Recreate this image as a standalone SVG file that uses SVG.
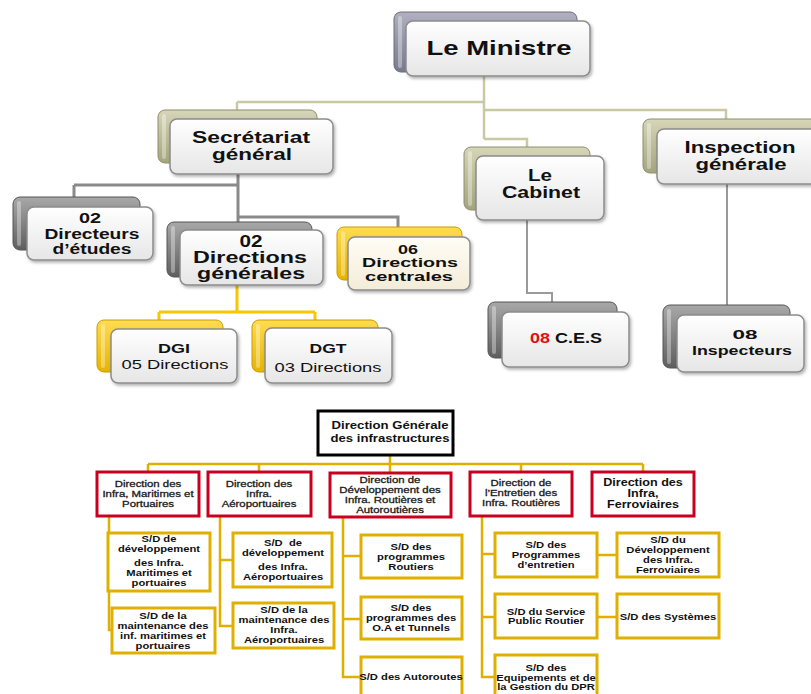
<svg xmlns="http://www.w3.org/2000/svg" width="811" height="694" viewBox="0 0 811 694">
<defs>
<linearGradient id="gFront" x1="0" y1="0" x2="0" y2="1"><stop offset="0" stop-color="#ffffff"/><stop offset="1" stop-color="#e6e6e6"/></linearGradient>
<linearGradient id="gCream" x1="0" y1="0" x2="0" y2="1"><stop offset="0" stop-color="#fffdf6"/><stop offset="1" stop-color="#f3ecd8"/></linearGradient>
<linearGradient id="gGray" x1="0" y1="0" x2="0" y2="1"><stop offset="0" stop-color="#a8a8a8"/><stop offset="1" stop-color="#5e5e5e"/></linearGradient>
<linearGradient id="gKhaki" x1="0" y1="0" x2="0" y2="1"><stop offset="0" stop-color="#d6d6b8"/><stop offset="1" stop-color="#a4a47e"/></linearGradient>
<linearGradient id="gLav" x1="0" y1="0" x2="0" y2="1"><stop offset="0" stop-color="#b0b0c0"/><stop offset="1" stop-color="#7a7a8e"/></linearGradient>
<linearGradient id="gYellow" x1="0" y1="0" x2="0" y2="1"><stop offset="0" stop-color="#ffdc50"/><stop offset="1" stop-color="#e6b400"/></linearGradient>
<filter id="sh" x="-10%" y="-10%" width="130%" height="140%"><feDropShadow dx="1.5" dy="2" stdDeviation="1.5" flood-color="#000" flood-opacity="0.3"/></filter>
</defs>
<style>
text{font-family:"Liberation Sans",Arial,sans-serif;fill:#111;text-anchor:middle}
.t{font-weight:bold}
.r{font-weight:normal}
.front{fill:url(#gFront);stroke:#8c8c8c;stroke-width:1.5;filter:url(#sh)}
.cream{fill:url(#gCream)}
.back{stroke-width:1}
.bg{fill:url(#gGray);stroke:#555}
.bk{fill:url(#gKhaki);stroke:#8e8e6c}
.bl{fill:url(#gLav);stroke:#6c6c80}
.by{fill:url(#gYellow);stroke:#c89c00}
.hl{fill:#fff;opacity:0.35}
.red{fill:#fff;stroke:#c8001e;stroke-width:3}
.gold{fill:#fff;stroke:#e0b000;stroke-width:3}
.blk{fill:#fff;stroke:#000;stroke-width:3}
.l2{font-size:9.5px;font-weight:normal;stroke:#222;stroke-width:0.3}
.l3{font-size:9.5px;font-weight:bold}
.l5{font-size:10.5px;font-weight:bold}
.ck{fill:none;stroke:#c9c9a4;stroke-width:2.5}
.cg{fill:none;stroke:#8a8a8a;stroke-width:3}
.cy{fill:none;stroke:#f5c800;stroke-width:3}
.cl{fill:none;stroke:#9a9a9a;stroke-width:2}
.cb{fill:none;stroke:#e0b000;stroke-width:2.5}
</style>
<rect width="811" height="694" fill="#fff"/>

<g id="connectors">
<path class="ck" d="M484 76 V139 M237 102 H484 M237 102 V112 M484 110 H726 V120 M484 139 H527 V148"/>
<path class="cg" d="M238 174 V230 M74 185 H238 M74 185 V198 M238 217 H398 V228"/>
<path class="cy" d="M237 285 V312 M159 312 H315 M159 312 V321 M315 312 V321"/>
<path class="cl" d="M527 220 V293 H552 V303 M727 184 V306"/>
<path class="cb" d="M390 455 V464 M148 464 H643 M148 464 V472 M259 464 V472 M390 464 V473 M521 464 V472 M643 464 V472"/>
<path class="cb" d="M109 516 V630 H112 M220 516 V626 H233 M220 560 H233 M343 517 V677 H361 M343 556 H361 M343 619 H361 M482 516 V677 H495 M482 554 H495 M482 617 H495 M597 555 H617 M597 617 H617"/>
</g>

<g id="ministre">
<rect class="back bl" x="394" y="12" width="183" height="60" rx="7"/>
<rect class="hl" x="398" y="16" width="4" height="52" rx="2"/>
<rect class="front" x="406" y="21" width="184" height="55" rx="7"/>
<text class="t" x="499" y="55" font-size="21" textLength="145" lengthAdjust="spacingAndGlyphs">Le Ministre</text>
</g>

<g id="secretariat">
<rect class="back bk" x="158" y="110" width="159" height="53" rx="7"/>
<rect class="hl" x="162" y="114" width="4" height="45" rx="2"/>
<rect class="front" x="170" y="119" width="163" height="55" rx="7"/>
<text class="t" x="251" y="143" font-size="16" textLength="118" lengthAdjust="spacingAndGlyphs">Secrétariat</text>
<text class="t" x="252" y="160" font-size="16" textLength="80" lengthAdjust="spacingAndGlyphs">général</text>
</g>

<g id="cabinet">
<rect class="back bk" x="464" y="147" width="126" height="63" rx="7"/>
<rect class="hl" x="468" y="151" width="4" height="55" rx="2"/>
<rect class="front" x="476" y="156" width="128" height="64" rx="7"/>
<text class="t" x="540" y="181" font-size="16" textLength="24" lengthAdjust="spacingAndGlyphs">Le</text>
<text class="t" x="541" y="198" font-size="16" textLength="78" lengthAdjust="spacingAndGlyphs">Cabinet</text>
</g>

<g id="inspection">
<rect class="back bk" x="643" y="119" width="175" height="54" rx="7"/>
<rect class="hl" x="647" y="123" width="4" height="46" rx="2"/>
<rect class="front" x="657" y="129" width="165" height="55" rx="7"/>
<text class="t" x="740" y="153" font-size="16" textLength="111" lengthAdjust="spacingAndGlyphs">Inspection</text>
<text class="t" x="741" y="170" font-size="16" textLength="91" lengthAdjust="spacingAndGlyphs">générale</text>
</g>

<g id="directeurs">
<rect class="back bg" x="13" y="197" width="127" height="53" rx="7"/>
<rect class="hl" x="17" y="201" width="4" height="45" rx="2"/>
<rect class="front" x="27" y="207" width="126" height="53" rx="7"/>
<text class="t" x="90" y="223" font-size="14" textLength="22" lengthAdjust="spacingAndGlyphs">02</text>
<text class="t" x="92" y="239" font-size="14" textLength="95" lengthAdjust="spacingAndGlyphs">Directeurs</text>
<text class="t" x="92" y="254" font-size="14" textLength="79" lengthAdjust="spacingAndGlyphs">d’études</text>
</g>

<g id="directions-generales">
<rect class="back bg" x="167" y="222" width="145" height="55" rx="7"/>
<rect class="hl" x="171" y="226" width="4" height="47" rx="2"/>
<rect class="front" x="180" y="230" width="143" height="55" rx="7"/>
<text class="t" x="251" y="247" font-size="16" textLength="23" lengthAdjust="spacingAndGlyphs">02</text>
<text class="t" x="250" y="263" font-size="16" textLength="114" lengthAdjust="spacingAndGlyphs">Directions</text>
<text class="t" x="251" y="279" font-size="16" textLength="108" lengthAdjust="spacingAndGlyphs">générales</text>
</g>

<g id="directions-centrales">
<rect class="back by" x="337" y="227" width="125" height="53" rx="7"/>
<rect class="hl" x="341" y="231" width="4" height="45" rx="2"/>
<rect class="front cream" x="348" y="237" width="122" height="53" rx="7"/>
<text class="t" x="408" y="254" font-size="12" textLength="20" lengthAdjust="spacingAndGlyphs">06</text>
<text class="t" x="410" y="267" font-size="12" textLength="96" lengthAdjust="spacingAndGlyphs">Directions</text>
<text class="t" x="409" y="281" font-size="12" textLength="88" lengthAdjust="spacingAndGlyphs">centrales</text>
</g>

<g id="dgi">
<rect class="back by" x="97" y="320" width="126" height="52" rx="7"/>
<rect class="hl" x="101" y="324" width="4" height="44" rx="2"/>
<rect class="front" x="111" y="329" width="126" height="54" rx="7"/>
<text class="t" x="174" y="353" font-size="13.5" textLength="32" lengthAdjust="spacingAndGlyphs">DGI</text>
<text class="r" x="175" y="369" font-size="13.5" textLength="107" lengthAdjust="spacingAndGlyphs">05 Directions</text>
</g>

<g id="dgt">
<rect class="back by" x="252" y="320" width="126" height="52" rx="7"/>
<rect class="hl" x="256" y="324" width="4" height="44" rx="2"/>
<rect class="front" x="265" y="328" width="127" height="55" rx="7"/>
<text class="t" x="328" y="353" font-size="13.5" textLength="37" lengthAdjust="spacingAndGlyphs">DGT</text>
<text class="r" x="328" y="372" font-size="13.5" textLength="107" lengthAdjust="spacingAndGlyphs">03 Directions</text>
</g>

<g id="ces">
<rect class="back bg" x="488" y="302" width="129" height="56" rx="7"/>
<rect class="hl" x="492" y="306" width="4" height="48" rx="2"/>
<rect class="front" x="502" y="312" width="127" height="55" rx="7"/>
<text class="t" x="566" y="343" font-size="14" textLength="72" lengthAdjust="spacingAndGlyphs"><tspan fill="#e01010">08</tspan> C.E.S</text>
</g>

<g id="inspecteurs">
<rect class="back bg" x="663" y="305" width="127" height="63" rx="7"/>
<rect class="hl" x="667" y="309" width="4" height="55" rx="2"/>
<rect class="front" x="677" y="315" width="127" height="57" rx="7"/>
<text class="t" x="745" y="339" font-size="13.5" textLength="25" lengthAdjust="spacingAndGlyphs">08</text>
<text class="t" x="742" y="355" font-size="13.5" textLength="100" lengthAdjust="spacingAndGlyphs">Inspecteurs</text>
</g>

<g id="dg-infra">
<rect class="blk" x="318" y="411" width="135" height="44"/>
<text class="t" x="390" y="429" font-size="11.5" textLength="117" lengthAdjust="spacingAndGlyphs">Direction Générale</text>
<text class="t" x="390" y="442" font-size="11.5" textLength="119" lengthAdjust="spacingAndGlyphs">des infrastructures</text>
</g>

<g id="d-maritimes">
<rect class="red" x="97" y="472" width="102" height="44"/>
<g transform="translate(148 0) scale(1.2 1)">
<text class="l2" x="0" y="487">Direction des</text>
<text class="l2" x="0" y="497">Infra, Maritimes et</text>
<text class="l2" x="0" y="507">Portuaires</text>
</g>
</g>
<g id="d-aeroportuaires">
<rect class="red" x="208" y="472" width="103" height="44"/>
<g transform="translate(259 0) scale(1.2 1)">
<text class="l2" x="0" y="487">Direction des</text>
<text class="l2" x="0" y="497">Infra.</text>
<text class="l2" x="0" y="507">Aéroportuaires</text>
</g>
</g>
<g id="d-developpement">
<rect class="red" x="330" y="473" width="121" height="44"/>
<g transform="translate(390 0) scale(1.2 1)">
<text class="l2" x="0" y="483">Direction de</text>
<text class="l2" x="0" y="493">Développement des</text>
<text class="l2" x="0" y="503">Infra. Routières et</text>
<text class="l2" x="0" y="513">Autoroutières</text>
</g>
</g>
<g id="d-entretien">
<rect class="red" x="470" y="472" width="102" height="44"/>
<g transform="translate(521 0) scale(1.2 1)">
<text class="l2" x="0" y="486">Direction de</text>
<text class="l2" x="0" y="496">l’Entretien des</text>
<text class="l2" x="0" y="506">Infra. Routières</text>
</g>
</g>
<g id="d-ferroviaires">
<rect class="red" x="592" y="472" width="102" height="44"/>
<g transform="translate(643 0) scale(1.2 1)">
<text class="l5" x="0" y="486">Direction des</text>
<text class="l5" x="0" y="497">Infra,</text>
<text class="l5" x="0" y="508">Ferroviaires</text>
</g>
</g>

<g id="sd-dev-maritimes">
<rect class="gold" x="108" y="533" width="102" height="58"/>
<g transform="translate(159 0) scale(1.18 1)">
<text class="l3" x="0" y="542">S/D de</text>
<text class="l3" x="0" y="552">développement</text>
<text class="l3" x="0" y="566">des Infra.</text>
<text class="l3" x="0" y="576">Maritimes et</text>
<text class="l3" x="0" y="586">portuaires</text>
</g>
</g>
<g id="sd-maint-maritimes">
<rect class="gold" x="112" y="608" width="103" height="45"/>
<g transform="translate(163 0) scale(1.18 1)">
<text class="l3" x="0" y="619">S/D de la</text>
<text class="l3" x="0" y="629">maintenance des</text>
<text class="l3" x="0" y="639">inf. maritimes et</text>
<text class="l3" x="0" y="649">portuaires</text>
</g>
</g>
<g id="sd-dev-aero">
<rect class="gold" x="233" y="533" width="99" height="54"/>
<g transform="translate(283 0) scale(1.18 1)">
<text class="l3" x="0" y="546" xml:space="preserve">S/D  de</text>
<text class="l3" x="0" y="556">développement</text>
<text class="l3" x="0" y="570">des Infra.</text>
<text class="l3" x="0" y="580">Aéroportuaires</text>
</g>
</g>
<g id="sd-maint-aero">
<rect class="gold" x="233" y="603" width="101" height="45"/>
<g transform="translate(284 0) scale(1.18 1)">
<text class="l3" x="0" y="613">S/D de la</text>
<text class="l3" x="0" y="623">maintenance des</text>
<text class="l3" x="0" y="633">Infra.</text>
<text class="l3" x="0" y="643">Aéroportuaires</text>
</g>
</g>
<g id="sd-prog-routiers">
<rect class="gold" x="361" y="535" width="101" height="43"/>
<g transform="translate(411 0) scale(1.18 1)">
<text class="l3" x="0" y="550">S/D des</text>
<text class="l3" x="0" y="560">programmes</text>
<text class="l3" x="0" y="570">Routiers</text>
</g>
</g>
<g id="sd-prog-oa">
<rect class="gold" x="361" y="597" width="101" height="42"/>
<g transform="translate(411 0) scale(1.18 1)">
<text class="l3" x="0" y="611">S/D des</text>
<text class="l3" x="0" y="621">programmes des</text>
<text class="l3" x="0" y="631">O.A et Tunnels</text>
</g>
</g>
<g id="sd-autoroutes">
<rect class="gold" x="361" y="657" width="101" height="45"/>
<g transform="translate(411 0) scale(1.18 1)">
<text class="l3" x="0" y="680">S/D des Autoroutes</text>
</g>
</g>
<g id="sd-prog-entretien">
<rect class="gold" x="495" y="533" width="102" height="44"/>
<g transform="translate(546 0) scale(1.18 1)">
<text class="l3" x="0" y="548">S/D des</text>
<text class="l3" x="0" y="558">Programmes</text>
<text class="l3" x="0" y="568">d’entretien</text>
</g>
</g>
<g id="sd-service-public">
<rect class="gold" x="495" y="594" width="102" height="44"/>
<g transform="translate(546 0) scale(1.18 1)">
<text class="l3" x="0" y="615">S/D du Service</text>
<text class="l3" x="0" y="624">Public Routier</text>
</g>
</g>
<g id="sd-equipements">
<rect class="gold" x="495" y="655" width="102" height="47"/>
<g transform="translate(546 0) scale(1.18 1)">
<text class="l3" x="0" y="671">S/D des</text>
<text class="l3" x="0" y="681">Equipements et de</text>
<text class="l3" x="0" y="690">la Gestion du DPR</text>
</g>
</g>
<g id="sd-dev-ferroviaires">
<rect class="gold" x="617" y="533" width="102" height="44"/>
<g transform="translate(668 0) scale(1.18 1)">
<text class="l3" x="0" y="543">S/D du</text>
<text class="l3" x="0" y="553">Développement</text>
<text class="l3" x="0" y="563">des Infra.</text>
<text class="l3" x="0" y="573">Ferroviaires</text>
</g>
</g>
<g id="sd-systemes">
<rect class="gold" x="617" y="594" width="102" height="44"/>
<g transform="translate(668 0) scale(1.18 1)">
<text class="l3" x="0" y="620">S/D des Systèmes</text>
</g>
</g>
</svg>
